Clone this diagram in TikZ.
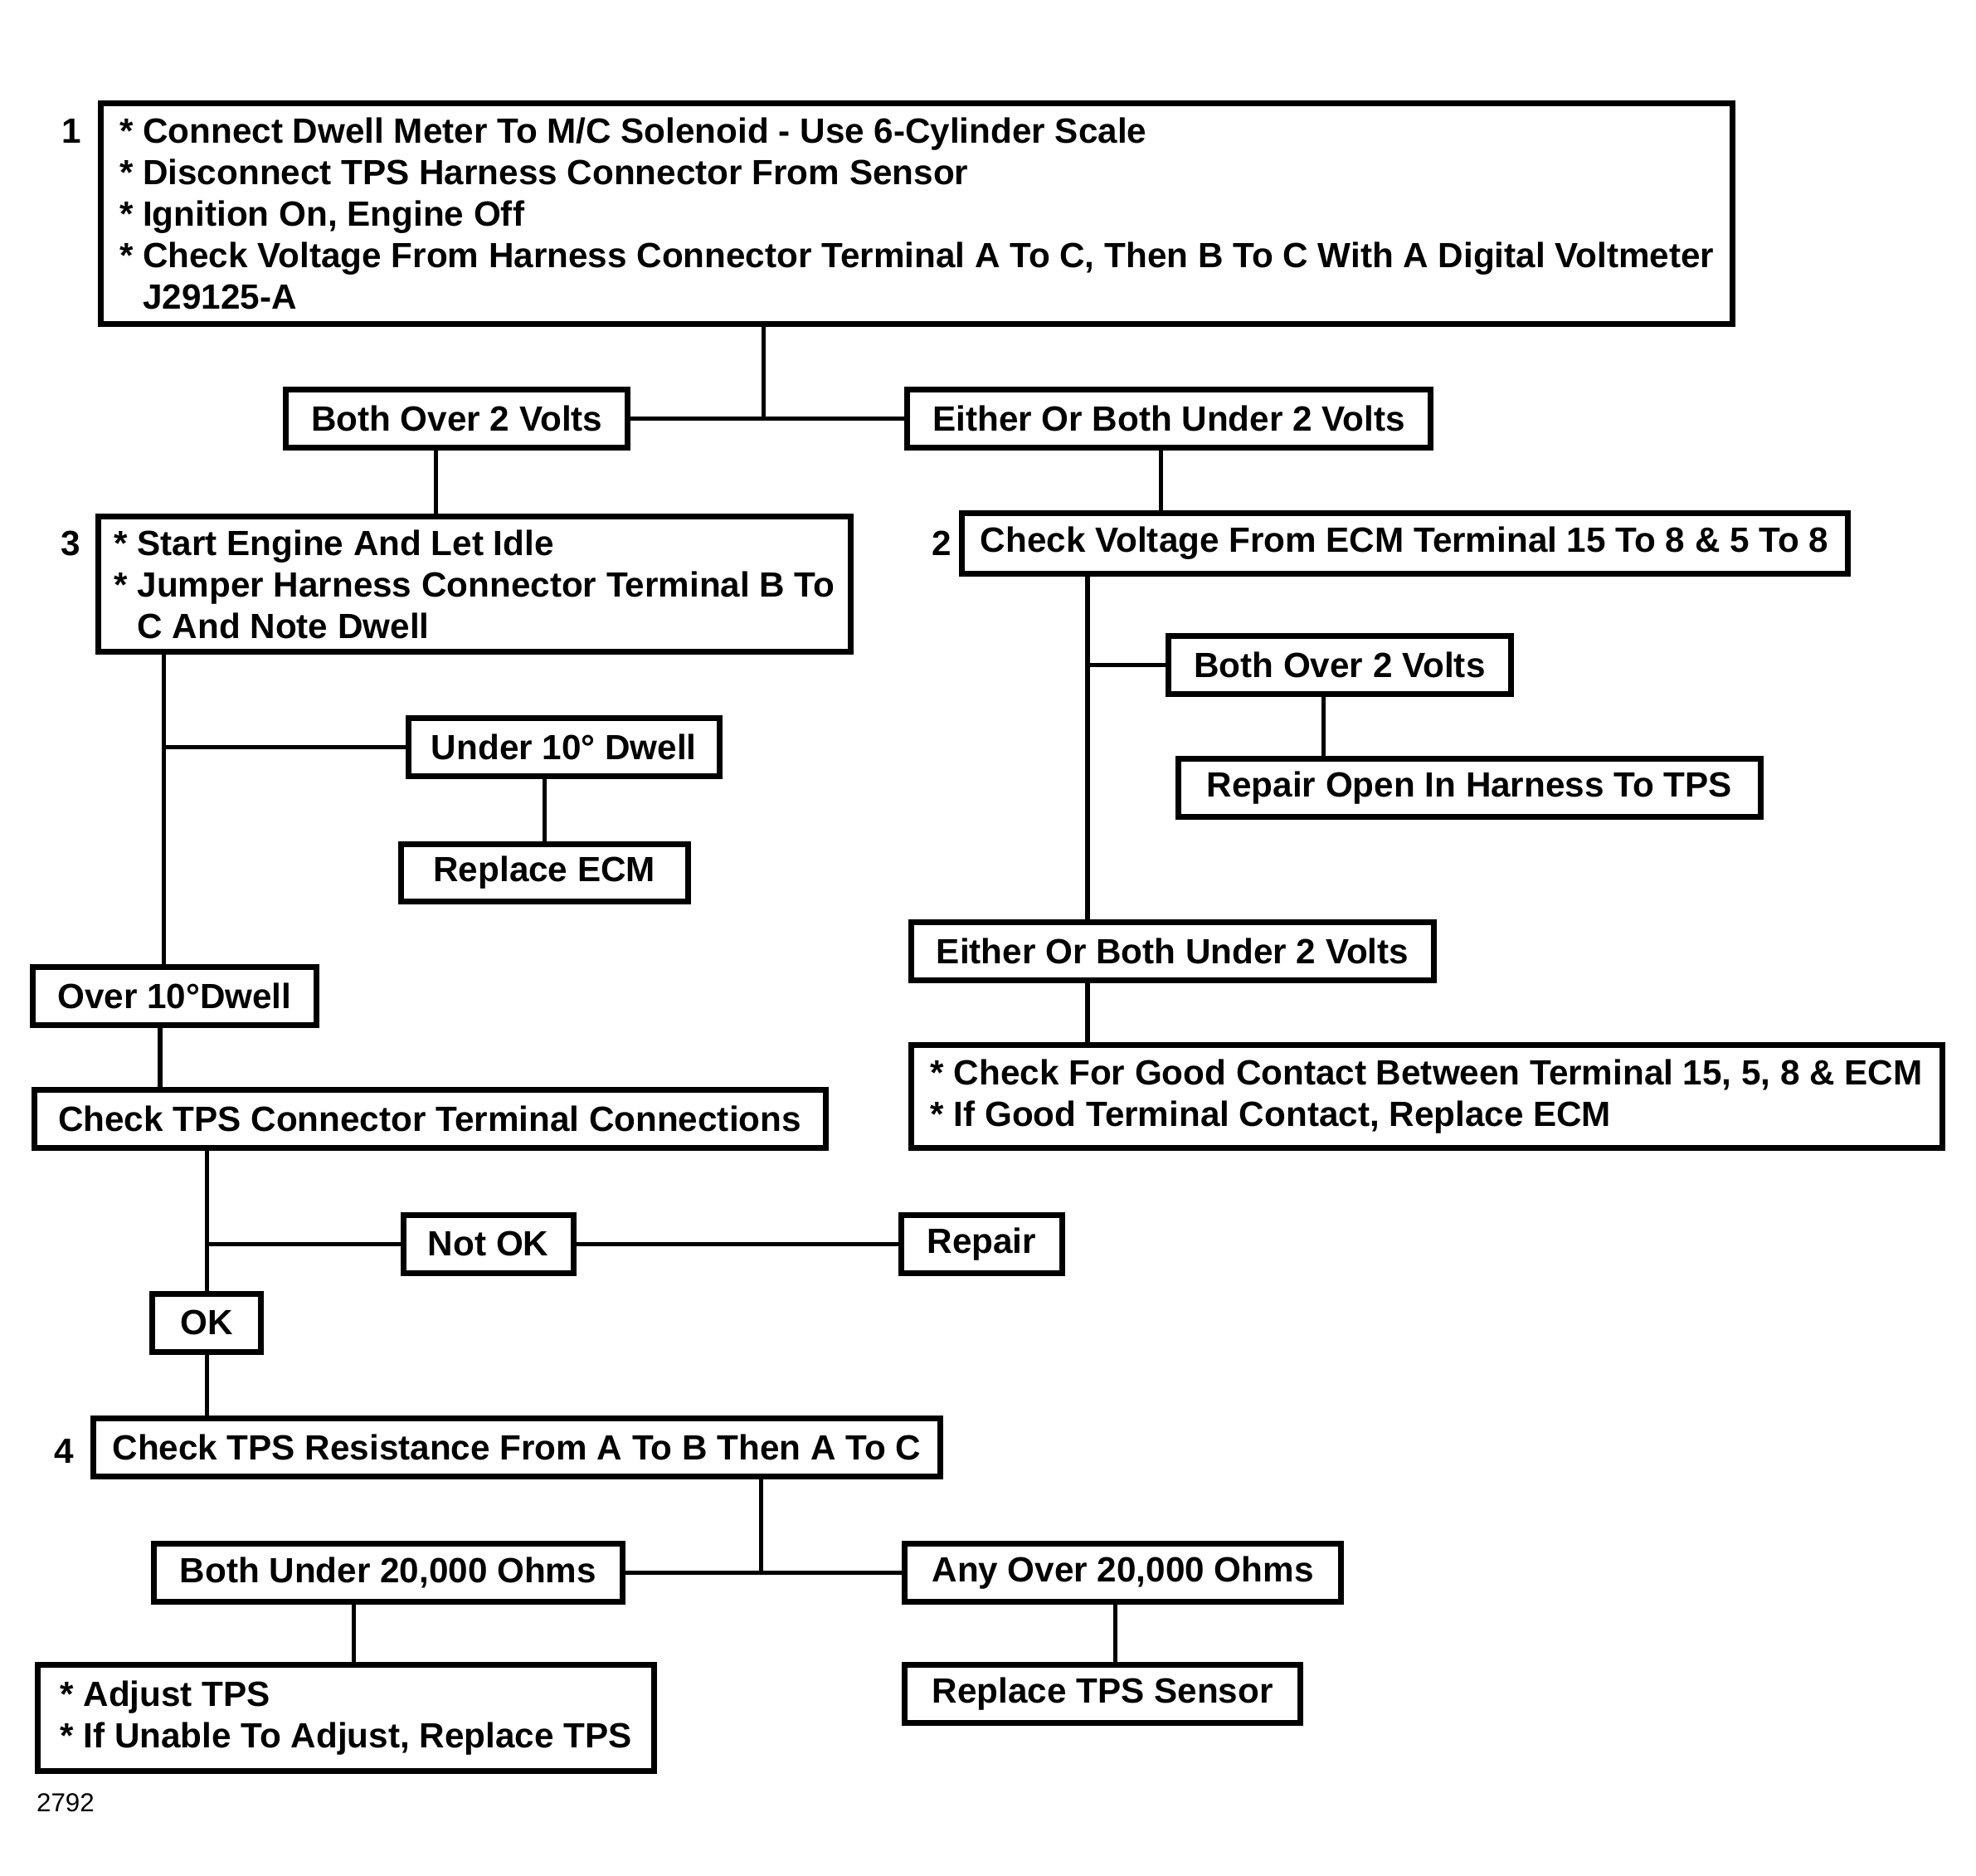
\documentclass[tikz,border=0pt]{standalone}
\usepackage{fontspec}
\setmainfont{Liberation Sans}
\tikzset{
  box/.style={draw, line width=2.3pt, inner sep=0pt, minimum height=23pt,
    font=\bfseries\fontsize{13.9}{16.5}\selectfont},
  list/.style={box, align=left},
  link/.style={line width=1.7pt},
  num/.style={inner sep=0pt, font=\bfseries\fontsize{13.9}{16.5}\selectfont}
}
\begin{document}
\begin{tikzpicture}[x=0.5pt,y=-0.5pt]
\useasboundingbox (0,0) rectangle (1568,1488);

\node[list, minimum width=647.5pt, minimum height=87.5pt] (s1) at (727.5,169.5)
  {{*} Connect Dwell Meter To M/C Solenoid - Use 6-Cylinder Scale\\
   {*} Disconnect TPS Harness Connector From Sensor\\
   {*} Ignition On, Engine Off\\
   {*} Check Voltage From Harness Connector Terminal A To C, Then B To C With A Digital Voltmeter\\
   \phantom{*}\ J29125-A};
\node[num] (n1) at (57,104) {1};

\node[box, minimum width=135.5pt] (bov1) at (362.5,332) {Both Over 2 Volts};
\node[box, minimum width=207.5pt] (eu1) at (927.5,332) {Either Or Both Under 2 Volts};

\node[list, minimum width=298.5pt, minimum height=53.5pt] (s3) at (376.5,463.5)
  {{*} Start Engine And Let Idle\\
   {*} Jumper Harness Connector Terminal B To\\
   \phantom{*}\ C And Note Dwell};
\node[num] (n3) at (56,431) {3};

\node[box, minimum width=351.5pt, minimum height=24pt] (s2) at (1114.5,431)
  {Check Voltage From ECM Terminal 15 To 8 \& 5 To 8};
\node[num] (n2) at (747,431) {2};

\node[box, minimum width=136pt] (bov2) at (1063,527.5) {Both Over 2 Volts};
\node[box, minimum width=231pt] (ropen) at (1166,625) {Repair Open In Harness To TPS};
\node[box, minimum width=207.5pt] (eu2) at (930.5,754.5) {Either Or Both Under 2 Volts};
\node[list, minimum width=409pt, minimum height=41pt] (cfg) at (1132,870)
  {{*} Check For Good Contact Between Terminal 15, 5, 8 \& ECM\\
   {*} If Good Terminal Contact, Replace ECM};

\node[box, minimum width=123.5pt] (u10) at (447.5,593) {Under 10° Dwell};
\node[box, minimum width=114pt] (recm) at (432,692.5) {Replace ECM};
\node[box, minimum width=112.5pt] (o10) at (138.5,790.5) {Over 10°Dwell};
\node[box, minimum width=314pt] (ctc) at (341,887.5) {Check TPS Connector Terminal Connections};
\node[box, minimum width=67.5pt] (notok) at (387.5,987) {Not OK};
\node[box, minimum width=64pt] (repair) at (779,987) {Repair};
\node[box, minimum width=43pt] (ok) at (164,1049.5) {OK};

\node[box, minimum width=336pt] (s4) at (410,1148.5) {Check TPS Resistance From A To B Then A To C};
\node[num] (n4) at (51,1151) {4};

\node[box, minimum width=186pt] (bu20) at (308,1248) {Both Under 20,000 Ohms};
\node[box, minimum width=173pt] (ao20) at (891,1248) {Any Over 20,000 Ohms};
\node[list, minimum width=244.5pt, minimum height=42pt] (adj) at (274.5,1363)
  {{*} Adjust TPS\\
   {*} If Unable To Adjust, Replace TPS};
\node[box, minimum width=157pt] (rtps) at (875,1344) {Replace TPS Sensor};

\node[inner sep=0pt, font=\fontsize{10.3}{12}\selectfont] (fig) at (52,1430) {2792};

\coordinate (j1) at (606,332);
\coordinate (j4) at (604,1248);
\coordinate (t1) at (346,0);
\coordinate (t2) at (921,0);
\coordinate (t3) at (863,0);
\coordinate (t4) at (1050,0);
\coordinate (t5) at (130,0);
\coordinate (t6) at (432,0);
\coordinate (t7) at (127,0);
\coordinate (t8) at (164,0);
\coordinate (t9) at (281,0);
\coordinate (t10) at (885,0);

\draw[link] (s1.south -| j1) -- (j1);
\draw[link] (bov1) -- (eu1);
\draw[link] (bov1.south -| t1) -- (s3.north -| t1);
\draw[link] (eu1.south -| t2) -- (s2.north -| t2);
\draw[link] (s2.south -| t3) -- (eu2.north -| t3);
\draw[link] (bov2.west -| t3) -- (bov2.west);
\draw[link] (bov2.south -| t4) -- (ropen.north -| t4);
\draw[link] (eu2.south -| t3) -- (cfg.north -| t3);
\draw[link] (s3.south -| t5) -- (o10.north -| t5);
\draw[link] (u10.west -| t5) -- (u10.west);
\draw[link] (u10.south -| t6) -- (recm.north -| t6);
\draw[link] (o10.south -| t7) -- (ctc.north -| t7);
\draw[link] (ctc.south -| t8) -- (ok.north -| t8);
\draw[link] (notok.west -| t8) -- (notok.west);
\draw[link] (notok) -- (repair);
\draw[link] (ok.south -| t8) -- (s4.north -| t8);
\draw[link] (s4.south -| j4) -- (j4);
\draw[link] (bu20) -- (ao20);
\draw[link] (bu20.south -| t9) -- (adj.north -| t9);
\draw[link] (ao20.south -| t10) -- (rtps.north -| t10);
\end{tikzpicture}
\end{document}
